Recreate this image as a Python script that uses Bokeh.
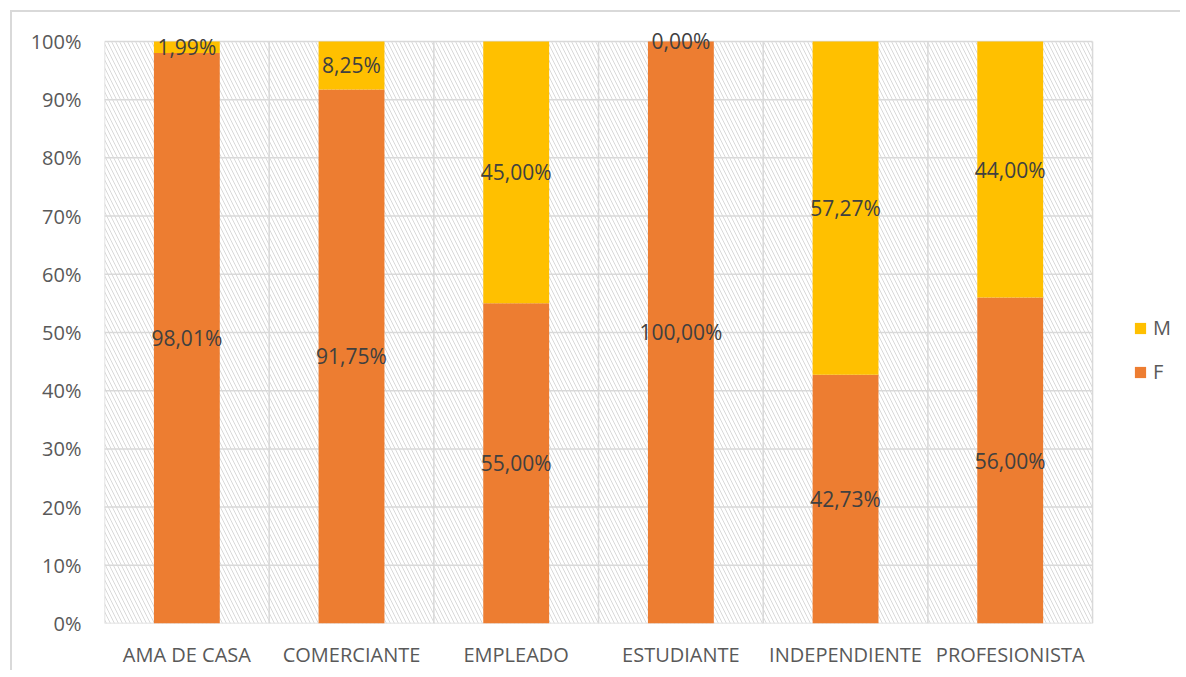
from bokeh.plotting import figure
from bokeh.models import (ColumnDataSource, FixedTicker, LabelSet, Legend, LegendItem,
                          CustomJSTickFormatter)
from bokeh.core.properties import value
from bokeh.embed import file_html
from bokeh.resources import INLINE

categories = ["AMA DE CASA", "COMERCIANTE", "EMPLEADO", "ESTUDIANTE", "INDEPENDIENTE", "PROFESIONISTA"]
f_values = [98.01, 91.75, 55.00, 100.00, 42.73, 56.00]
m_values = [1.99, 8.25, 45.00, 0.00, 57.27, 44.00]
series_names = ["F", "M"]
y_ticks = [0, 10, 20, 30, 40, 50, 60, 70, 80, 90, 100]

FONT = "Open Sans"
F_COLOR = "#ED7D31"
M_COLOR = "#FFC000"
GRID = "#D9D9D9"
TEXT = "#595959"
YMAX = 100
N = len(categories)

x_pos = [i + 0.5 for i in range(N)]

def fmt(v):
    return ("%.2f" % v).replace(".", ",") + "%"

src = ColumnDataSource(dict(
    x=x_pos, F=f_values, M=m_values,
    f_mid=[f / 2 for f in f_values],
    m_mid=[f + m / 2 for f, m in zip(f_values, m_values)],
    f_lab=[fmt(v) for v in f_values],
    m_lab=[fmt(v) for v in m_values],
))

p = figure(width=1180, height=670, x_range=(0, N + 0.534), y_range=(0, 103.6),
           output_backend="svg", toolbar_location=None,
           min_border_left=104, min_border_right=0, min_border_top=20, min_border_bottom=47)
p.outline_line_color = None
p.background_fill_alpha = 0
p.border_fill_alpha = 0
p.styles = {
    "background": ("linear-gradient(#D9D9D9,#D9D9D9) 10px 10px / 100% 2px no-repeat, "
                   "linear-gradient(#D9D9D9,#D9D9D9) 10px 10px / 2px 100% no-repeat"),
}

# hatched plot area
bg = ColumnDataSource(dict(l=[0], r=[N], b=[0], t=[YMAX]))
p.quad(left="l", right="r", bottom="b", top="t", source=bg, fill_color="white", line_color=None,
       hatch_pattern="\\", hatch_color=GRID, hatch_weight=1, hatch_scale=8, level="underlay")

# gridlines (vertical at category boundaries, horizontal at ticks)
bounds = list(range(N + 1))
p.segment(x0=bounds, x1=bounds, y0=[0] * len(bounds), y1=[YMAX] * len(bounds),
          line_color=GRID, line_width=1.5, level="underlay")
p.segment(x0=[0] * len(y_ticks), x1=[N] * len(y_ticks), y0=y_ticks, y1=y_ticks,
          line_color=GRID, line_width=1.5, level="underlay")

renderers = p.vbar_stack(series_names, x="x", width=0.4, source=src,
                         color=[F_COLOR, M_COLOR], line_color=None)

p.xgrid.visible = False
p.ygrid.visible = False

p.xaxis.ticker = FixedTicker(ticks=x_pos)
p.xaxis.major_label_overrides = {x: c for x, c in zip(x_pos, categories)}
p.yaxis.ticker = FixedTicker(ticks=y_ticks)
p.yaxis.formatter = CustomJSTickFormatter(code="return tick + '%';")
for ax in (p.xaxis, p.yaxis):
    ax.axis_line_color = None
    ax.major_tick_line_color = None
    ax.minor_tick_line_color = None
    ax.major_label_text_font = FONT
    ax.major_label_text_font_size = "20px"
    ax.major_label_text_color = TEXT
p.yaxis.major_label_standoff = 17
p.xaxis.major_label_standoff = 11

for ycol, tcol in (("f_mid", "f_lab"), ("m_mid", "m_lab")):
    p.add_layout(LabelSet(x="x", y=ycol, text=tcol, source=src, text_align="center",
                          text_baseline="middle", text_font=value(FONT),
                          text_font_size=value("21px"), text_color="#404040"))

legend = Legend(items=[LegendItem(label="M", renderers=[renderers[1]]),
                       LegendItem(label="F", renderers=[renderers[0]])],
                location=(1029, 238), orientation="vertical")
legend.border_line_color = None
legend.background_fill_alpha = 0
legend.padding = 0
legend.margin = 0
legend.spacing = 17
legend.glyph_width = 14
legend.glyph_height = 14
legend.label_text_font = FONT
legend.label_text_font_size = "20px"
legend.label_text_color = TEXT
legend.label_standoff = 6
p.add_layout(legend)

open("out.html", "w").write(file_html(p, INLINE))
